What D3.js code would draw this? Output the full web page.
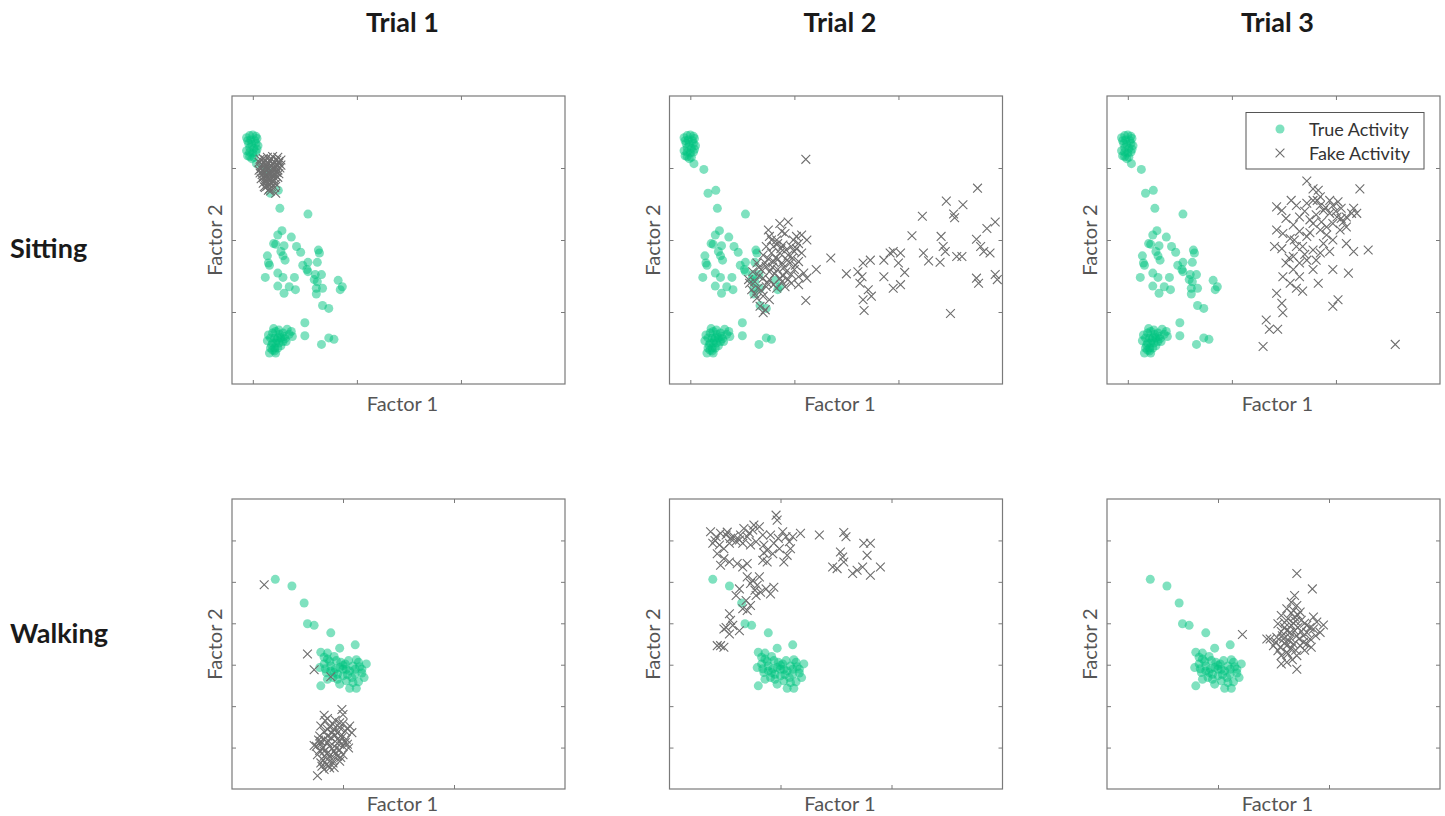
<!DOCTYPE html>
<html>
<head>
<meta charset="utf-8">
<script src="https://cdn.jsdelivr.net/npm/d3@7"></script>
<style>
  html, body { margin: 0; padding: 0; background: #fff; }
  svg { display: block; }
</style>
</head>
<body>
<svg id="chart" width="1445" height="816"></svg>
<script>
// ---------------- DATA ----------------
const trials = ["Trial 1", "Trial 2", "Trial 3"];
const activities = ["Sitting", "Walking"];
const legendLabels = ["True Activity", "Fake Activity"];
const xLabel = "Factor 1";
const yLabel = "Factor 2";

// tick positions (no tick labels are shown)
const sittingXTicks = [0, 1, 2];
const sittingYTicks = [1, 2, 3];
const walkingXTicks = [1, 2];
const walkingYTicks = [1, 2, 3, 4, 5, 6];
const sittingXDomain = [-0.2, 3];
const sittingYDomain = [0, 4];
const walkingXDomain = [0, 3];
const walkingYDomain = [0, 7];

// True activity (same in every trial of a row)
const sittingTrue = [
  [-0.03,3.45],[0.00,3.46],[0.03,3.44],[-0.05,3.38],[-0.02,3.39],[0.02,3.38],[0.04,3.41],
  [-0.04,3.34],[-0.01,3.33],[0.03,3.34],[0.05,3.31],[-0.03,3.28],[0.01,3.27],[-0.06,3.24],
  [-0.03,3.22],[0.00,3.21],[0.03,3.22],[-0.05,3.17],[-0.03,3.16],[0.01,3.15],[-0.01,3.13],
  [0.04,3.26],[-0.06,3.42],[0.035,3.06],[0.13,2.98],[0.17,2.65],[0.245,2.69],
  [0.26,2.44],[0.53,2.36],[0.28,2.13],[0.24,2.07],[0.37,2.04],[0.20,1.95],[0.22,1.94],
  [0.30,1.92],[0.42,1.91],[0.27,1.84],[0.46,1.83],[0.63,1.86],[0.64,1.82],[0.14,1.78],
  [0.29,1.78],[0.31,1.72],[0.15,1.68],[0.16,1.65],[0.48,1.65],[0.53,1.69],[0.62,1.69],
  [0.52,1.59],[0.53,1.56],[0.24,1.54],[0.60,1.52],[0.66,1.52],[0.12,1.48],[0.29,1.48],
  [0.40,1.48],[0.59,1.45],[0.62,1.42],[0.82,1.44],[0.24,1.36],[0.35,1.35],[0.41,1.31],
  [0.61,1.33],[0.67,1.33],[0.86,1.35],[0.84,1.31],[0.30,1.26],[0.61,1.25],[0.67,1.09],
  [0.73,1.05],[0.50,0.85],[0.50,0.67],[0.73,0.64],[0.78,0.62],[0.66,0.55],
  [0.19,0.71],[0.22,0.73],[0.25,0.75],[0.29,0.71],[0.33,0.76],[0.37,0.73],[0.38,0.66],
  [0.17,0.64],[0.21,0.64],[0.24,0.64],[0.27,0.64],[0.30,0.66],[0.35,0.69],[0.19,0.57],
  [0.22,0.57],[0.25,0.57],[0.29,0.59],[0.32,0.59],[0.17,0.50],[0.21,0.50],[0.24,0.50],
  [0.27,0.53],[0.16,0.43],[0.21,0.46],[0.22,0.43],[0.14,0.60],[0.15,0.68],[0.20,0.77],
  [0.26,0.69],[0.31,0.63],[0.18,0.54],[0.23,0.61],[0.19,0.47]
];
const walkingTrue = [
  [0.39,5.06],[0.54,4.90],[0.65,4.49],[0.68,3.99],[0.74,3.95],[0.89,3.77],[0.97,3.40],[1.11,3.48],
  [0.80,3.30],[0.83,3.18],[0.79,2.93],[0.80,2.49],[0.86,3.14],[0.89,2.97],[0.92,2.81],[0.97,2.53],
  [0.98,3.06],[1.03,2.89],[1.08,2.69],[1.06,2.43],[1.12,2.43],[1.14,3.06],[1.17,2.89],[1.19,2.69],
  [1.21,3.02],[1.11,2.77],[1.00,2.73],[0.94,3.10],[0.85,2.81],[0.86,2.65],[0.91,2.69],[1.02,3.02],
  [1.05,3.10],[1.09,2.97],[1.12,3.12],[1.17,2.80],[1.14,2.59],[0.97,2.93],[1.06,2.85],[0.92,3.20],
  [0.83,3.02],[0.95,2.65],[1.03,2.61],[1.09,2.57],[0.89,2.85],[1.00,2.89],[1.11,2.89],[0.95,2.77],
  [0.86,3.28],[0.88,3.08],[1.00,2.98],[1.04,2.76],[0.93,2.90],[0.84,2.90],[1.15,2.95]
];

// Fake activity, per trial
const sittingFake1 = [
  [0.10,3.13],[0.14,3.15],[0.19,3.16],[0.24,3.15],[0.27,3.11],[0.06,3.08],[0.11,3.08],[0.16,3.10],
  [0.21,3.08],[0.25,3.07],[0.08,3.02],[0.13,3.02],[0.17,3.04],[0.22,3.02],[0.27,3.04],[0.06,2.97],
  [0.10,2.96],[0.14,2.97],[0.19,2.98],[0.24,2.97],[0.09,2.91],[0.13,2.90],[0.17,2.91],[0.22,2.90],
  [0.25,2.92],[0.08,2.85],[0.12,2.84],[0.16,2.85],[0.20,2.84],[0.24,2.87],[0.10,2.79],[0.14,2.78],
  [0.18,2.79],[0.22,2.78],[0.12,2.73],[0.16,2.71],[0.21,2.73],[0.15,2.69],[0.22,2.65],[0.11,2.74],
  [0.15,3.00],[0.18,2.93],[0.13,2.88],[0.20,3.05],[0.16,2.82],
  [0.07,3.12],[0.12,3.11],[0.18,3.12],[0.23,3.11],[0.09,3.05],[0.15,3.06],[0.24,3.03],[0.08,2.99],
  [0.12,2.99],[0.17,2.97],[0.21,2.99],[0.07,2.93],[0.11,2.93],[0.15,2.92],[0.20,2.92],[0.23,2.94],
  [0.10,2.87],[0.14,2.86],[0.18,2.86],[0.22,2.85],[0.13,2.81],[0.19,2.81],[0.14,2.75],[0.18,2.74],
  [0.17,2.68],[0.26,3.00],[0.25,3.09]
];
const sittingFake2 = [
  [1.11,3.12],
  [0.75,2.14],[0.86,2.23],[0.94,2.25],[0.76,2.05],[0.83,2.00],[0.91,2.09],[1.02,2.05],[1.07,2.07],
  [1.12,2.00],[0.73,1.91],[0.80,1.91],[0.89,1.93],[0.97,1.91],[1.04,1.95],[0.70,1.79],[0.78,1.82],
  [0.86,1.82],[0.94,1.79],[1.00,1.84],[1.07,1.82],[0.64,1.68],[0.72,1.68],[0.80,1.70],[0.88,1.68],
  [0.96,1.68],[1.04,1.70],[0.60,1.56],[0.68,1.59],[0.76,1.56],[0.84,1.59],[0.92,1.56],[1.00,1.59],
  [1.09,1.54],[1.21,1.59],[0.56,1.45],[0.62,1.42],[0.70,1.47],[0.76,1.45],[0.86,1.47],[0.94,1.45],
  [1.04,1.49],[1.12,1.47],[0.59,1.31],[0.65,1.33],[0.73,1.35],[0.83,1.33],[0.91,1.35],[1.04,1.38],
  [0.64,1.19],[0.70,1.22],[0.76,1.17],[0.67,1.08],[0.72,1.03],[0.70,0.99],[1.11,1.16],[1.35,1.75],
  [0.57,1.40],[0.82,1.75],[0.90,1.62],[0.98,1.75],[0.79,1.62],[0.87,1.88],
  [0.78,2.00],[0.88,2.12],[0.99,2.00],[0.84,1.95],[0.92,1.86],[1.02,1.88],[0.75,1.74],[0.84,1.73],
  [0.93,1.72],[1.01,1.65],[0.66,1.62],[0.73,1.63],[0.81,1.53],[0.89,1.50],[0.97,1.52],[0.66,1.50],
  [0.74,1.40],[0.80,1.38],[0.88,1.42],[0.62,1.25],[0.68,1.30],[0.97,1.40],
  [1.50,1.53],[1.61,1.56],[1.66,1.68],[1.73,1.72],[1.65,1.49],[1.63,1.40],[1.71,1.31],[1.74,1.22],
  [1.66,1.17],[1.67,1.02],[1.86,1.72],[1.92,1.82],[1.95,1.84],[2.02,1.82],[2.00,1.68],[1.86,1.49],
  [1.95,1.33],[2.02,1.38],[2.06,1.55],[2.13,2.06],[2.23,2.33],[2.24,1.82],[2.29,1.71],[2.41,2.05],
  [2.40,1.69],[2.43,1.91],[2.45,1.84],[2.46,2.54],[2.53,2.36],[2.54,2.31],[2.62,2.49],[2.56,1.77],
  [2.61,1.77],[2.76,2.72],[2.75,2.01],[2.79,1.91],[2.82,1.84],[2.88,1.82],[2.85,2.16],[2.93,2.25],
  [2.75,1.47],[2.77,1.40],[2.93,1.52],[2.95,1.45],[2.50,0.98]
];
const sittingFake3 = [
  [1.72,2.82],[1.78,2.71],[1.83,2.69],[1.85,2.60],[2.23,2.71],[1.43,2.46],[1.48,2.41],[1.57,2.55],
  [1.62,2.48],[1.72,2.51],[1.78,2.55],[1.85,2.48],[1.94,2.55],[1.97,2.48],[2.02,2.53],[2.05,2.44],
  [2.17,2.44],[2.20,2.37],[1.94,2.37],[2.01,2.32],[2.07,2.25],[1.97,2.23],[2.10,2.18],[1.81,2.35],
  [1.86,2.25],[1.78,2.23],[1.52,2.30],[1.59,2.21],[1.43,2.14],[1.49,2.09],[1.56,2.02],[1.65,2.12],
  [1.72,2.05],[1.85,2.14],[1.91,2.07],[1.97,2.00],[1.41,1.91],[1.48,1.88],[1.62,1.91],[1.68,1.91],
  [1.78,1.86],[1.85,1.82],[1.94,1.84],[2.10,1.95],[2.17,1.84],[2.31,1.86],[1.52,1.68],[1.59,1.59],
  [1.65,1.68],[1.72,1.72],[1.81,1.72],[1.97,1.59],[2.12,1.54],[1.49,1.49],[1.56,1.40],[1.62,1.33],
  [1.68,1.29],[1.83,1.40],[2.02,1.17],[1.97,1.08],[1.43,1.26],[1.48,1.12],[1.49,0.99],[1.33,0.89],
  [1.36,0.76],[1.44,0.76],[1.30,0.52],[2.57,0.55],[1.59,1.77],[1.65,1.49],[1.78,1.59],[1.91,2.18],
  [2.04,2.14],[1.65,2.32],[1.75,2.28],[1.88,2.41],[2.10,2.32],[2.15,2.37],
  [1.70,2.40],[1.90,2.45],[2.00,2.40],[1.75,2.10],[1.60,2.00],[1.70,1.80],[1.88,1.95],[1.55,1.75],
  [2.05,2.30],[1.82,2.55]
];
const walkingFake1 = [
  [0.29,4.93],[0.68,3.26],[0.74,2.88],[0.89,2.71],
  [0.99,1.92],[1.00,1.80],[0.83,1.78],[0.86,1.70],[0.97,1.60],[1.06,1.52],[1.08,1.36],[0.80,1.52],
  [0.86,1.44],[0.92,1.44],[1.02,1.40],[0.79,1.28],[0.83,1.20],[0.89,1.24],[0.95,1.20],[1.03,1.20],
  [0.76,1.03],[0.82,0.99],[0.88,1.03],[0.94,0.99],[1.00,1.03],[1.05,0.99],[0.77,0.83],[0.83,0.79],
  [0.89,0.83],[0.95,0.79],[1.00,0.83],[0.80,0.63],[0.85,0.59],[0.91,0.63],[0.97,0.67],[0.83,0.47],
  [0.88,0.51],[0.77,0.32],[0.74,1.05],[0.86,1.12],[0.92,0.91],[0.83,0.91],[0.98,1.28],[0.91,1.56],
  [0.90,1.35],[0.95,1.10],[0.86,0.72],[0.93,1.30],[0.80,1.15],[1.02,1.12],
  [0.84,1.65],[0.93,1.66],[1.00,1.58],[0.88,1.50],[0.97,1.48],[1.04,1.45],[0.83,1.38],[0.96,1.38],
  [0.86,1.28],[0.99,1.24],[0.78,1.18],[0.87,1.16],[0.97,1.15],[1.04,1.08],[0.80,1.08],[0.90,0.97],
  [0.97,0.94],[0.79,0.93],[0.86,0.86],[0.93,0.86],[0.98,0.76],[0.82,0.70],[0.90,0.72],[0.87,0.56],
  [0.81,0.55],[0.92,0.52]
];
const walkingFake2 = [
  [0.37,6.21],[0.42,6.09],[0.46,6.17],[0.51,6.13],[0.55,6.05],[0.39,5.93],[0.45,5.89],[0.49,5.80],
  [0.54,5.93],[0.58,6.09],[0.64,6.13],[0.67,6.29],[0.70,6.09],[0.75,6.25],[0.76,6.37],[0.81,6.33],
  [0.84,6.13],[0.78,5.97],[0.73,5.89],[0.66,5.93],[0.63,6.01],[0.43,5.68],[0.49,5.56],[0.54,5.48],
  [0.61,5.44],[0.66,5.36],[0.70,5.44],[0.46,5.40],[0.85,5.89],[0.88,5.76],[0.93,5.68],[0.94,5.93],
  [0.97,6.49],[0.96,6.61],[0.91,6.13],[1.02,6.21],[1.05,6.09],[1.08,5.97],[1.09,5.80],[1.06,5.64],
  [1.03,5.48],[1.11,6.09],[1.18,6.17],[1.35,6.13],[1.57,6.19],[1.59,6.09],[1.54,5.72],[1.56,5.60],
  [1.47,5.36],[1.51,5.32],[1.57,5.48],[1.65,5.20],[1.69,5.28],[1.74,5.36],[1.78,5.64],[1.75,5.93],
  [1.81,5.93],[1.81,5.16],[1.90,5.36],[0.88,5.48],[0.84,5.52],[0.70,5.12],[0.73,4.96],[0.79,4.92],
  [0.82,4.75],[0.87,4.83],[0.91,4.71],[0.78,4.67],[0.73,4.43],[0.70,4.31],[0.75,5.04],[0.81,5.12],
  [0.94,4.87],[0.54,4.23],[0.55,4.07],[0.51,3.90],[0.57,3.95],[0.63,3.82],[0.54,3.74],[0.49,3.86],
  [0.46,3.46],[0.49,3.42],[0.43,3.46],[0.66,4.35],[0.69,4.55],[0.60,4.67],[0.63,4.83],
  [0.41,6.00],[0.52,6.20],[0.60,5.98],[0.72,6.18],[0.99,5.80],[0.98,6.05],[0.85,5.70],[0.77,4.80]
];
const walkingFake3 = [
  [1.71,5.20],[1.85,4.83],[1.22,3.73],
  [1.69,4.67],[1.66,4.51],[1.71,4.43],[1.62,4.35],[1.68,4.31],[1.74,4.27],[1.57,4.19],[1.63,4.11],
  [1.69,4.15],[1.75,4.07],[1.86,4.15],[1.89,4.03],[1.95,3.96],[1.54,3.99],[1.60,3.90],[1.66,3.95],
  [1.72,3.90],[1.80,3.95],[1.86,3.86],[1.92,3.78],[1.47,3.62],[1.53,3.66],[1.59,3.62],[1.65,3.66],
  [1.71,3.70],[1.77,3.70],[1.83,3.62],[1.50,3.46],[1.56,3.42],[1.62,3.46],[1.68,3.50],[1.74,3.46],
  [1.84,3.42],[1.57,3.22],[1.63,3.26],[1.71,3.22],[1.57,3.02],[1.71,2.89],[1.44,3.62],[1.65,3.78],
  [1.62,3.82],[1.80,3.78],[1.77,3.54],[1.68,4.00],[1.72,4.20],[1.64,3.58],[1.70,3.35],
  [1.66,4.25],[1.70,4.05],[1.78,4.00],[1.60,4.02],[1.83,3.90],[1.57,3.80],[1.69,3.82],[1.75,3.80],
  [1.52,3.55],[1.60,3.52],[1.80,3.50],[1.66,3.40],[1.54,3.34],[1.62,3.30],[1.78,3.35],[1.67,3.12],
  [1.62,3.06],[1.88,3.70],[1.73,3.62],[1.58,3.70]
];

const panelTrue = [sittingTrue, walkingTrue];
const panelFake = [
  [sittingFake1, sittingFake2, sittingFake3],
  [walkingFake1, walkingFake2, walkingFake3]
];

// ---------------- LAYOUT / STYLE ----------------
const colLeft = [232, 669.5, 1107];
const panelW = 333;
const rowTop = [96, 499];
const rowH = [288, 290];
const xLabelOffset = [27, 22];
const green = "#00c47f";
const grey = "#6e6e6e";
const axisCol = "#7a7a7a";
const labelCol = "#555";
const dotR = 4.5;
const crossH = 4.4;

const svg = d3.select("#chart");
svg.append("rect").attr("width", 1445).attr("height", 816).attr("fill", "#fff");

function crossPath(cx, cy, h) {
  return `M${cx - h},${cy - h}L${cx + h},${cy + h}M${cx - h},${cy + h}L${cx + h},${cy - h}`;
}

// column titles
trials.forEach((t, c) => {
  svg.append("text")
    .attr("x", colLeft[c] + panelW / 2 + 4)
    .attr("y", 32)
    .attr("text-anchor", "middle")
    .attr("font-family", "Lato, 'Noto Sans', sans-serif")
    .attr("font-weight", "bold")
    .attr("font-size", 27)
    .attr("fill", "#1a1a1a")
    .text(t);
});

// row labels
const rowLabelBaseline = [258, 643];
activities.forEach((a, r) => {
  svg.append("text")
    .attr("x", 10)
    .attr("y", rowLabelBaseline[r])
    .attr("font-family", "Lato, 'Noto Sans', sans-serif")
    .attr("font-weight", "bold")
    .attr("font-size", 27)
    .attr("fill", "#1a1a1a")
    .text(a);
});

for (let r = 0; r < 2; r++) {
  for (let c = 0; c < 3; c++) {
    const left = colLeft[c], top = rowTop[r], h = rowH[r];
    const x = d3.scaleLinear().domain(r === 0 ? sittingXDomain : walkingXDomain).range([0, panelW]);
    const y = d3.scaleLinear().domain(r === 0 ? sittingYDomain : walkingYDomain).range([h, 0]);
    const xt = r === 0 ? sittingXTicks : walkingXTicks;
    const yt = r === 0 ? sittingYTicks : walkingYTicks;

    const g = svg.append("g").attr("transform", `translate(${left},${top})`);

    // inward ticks on all four sides
    const tk = 4;
    const axes = [
      [d3.axisBottom(x).tickValues(xt), `translate(0,${h})`],
      [d3.axisTop(x).tickValues(xt), `translate(0,0)`],
      [d3.axisLeft(y).tickValues(yt), `translate(0,0)`],
      [d3.axisRight(y).tickValues(yt), `translate(${panelW},0)`]
    ];
    axes.forEach(([ax, tr]) => {
      const a = g.append("g").attr("transform", tr)
        .call(ax.tickSize(-tk).tickSizeOuter(0).tickFormat(""));
      a.select(".domain").remove();
      a.selectAll("line").attr("stroke", axisCol).attr("stroke-width", 1);
    });

    // points: true activity
    g.append("g").selectAll("circle")
      .data(panelTrue[r])
      .join("circle")
      .attr("cx", d => x(d[0]))
      .attr("cy", d => y(d[1]))
      .attr("r", dotR)
      .attr("fill", green)
      .attr("fill-opacity", 0.5);

    // points: fake activity
    g.append("g").selectAll("path")
      .data(panelFake[r][c])
      .join("path")
      .attr("d", d => crossPath(x(d[0]), y(d[1]), crossH))
      .attr("fill", "none")
      .attr("stroke", grey)
      .attr("stroke-width", 1.1);

    // box
    g.append("rect")
      .attr("x", 0).attr("y", 0)
      .attr("width", panelW).attr("height", h)
      .attr("fill", "none")
      .attr("stroke", axisCol)
      .attr("stroke-width", 1.2);

    // axis labels
    g.append("text")
      .attr("x", panelW / 2 + 4)
      .attr("y", h + xLabelOffset[r])
      .attr("text-anchor", "middle")
      .attr("font-family", "Lato, 'Noto Sans', sans-serif")
      .attr("font-size", 20)
      .attr("fill", labelCol)
      .text(xLabel);
    g.append("text")
      .attr("transform", `translate(-10,${h / 2}) rotate(-90)`)
      .attr("text-anchor", "middle")
      .attr("font-family", "Lato, 'Noto Sans', sans-serif")
      .attr("font-size", 20)
      .attr("fill", labelCol)
      .text(yLabel);

    // legend in the top-right panel
    if (r === 0 && c === 2) {
      const lg = svg.append("g").attr("transform", "translate(1246,112.5)");
      lg.append("rect").attr("width", 178).attr("height", 56.5)
        .attr("fill", "#fff").attr("stroke", "#555").attr("stroke-width", 1);
      lg.append("circle").attr("cx", 34).attr("cy", 16.5).attr("r", dotR)
        .attr("fill", green).attr("fill-opacity", 0.5);
      lg.append("path").attr("d", crossPath(34, 40.5, crossH))
        .attr("fill", "none").attr("stroke", grey).attr("stroke-width", 1.1);
      legendLabels.forEach((t, i) => {
        lg.append("text")
          .attr("x", 63).attr("y", 23 + i * 24)
          .attr("font-family", "Lato, 'Noto Sans', sans-serif")
          .attr("font-size", 18)
          .attr("fill", "#333")
          .text(t);
      });
    }
  }
}
</script>
</body>
</html>
